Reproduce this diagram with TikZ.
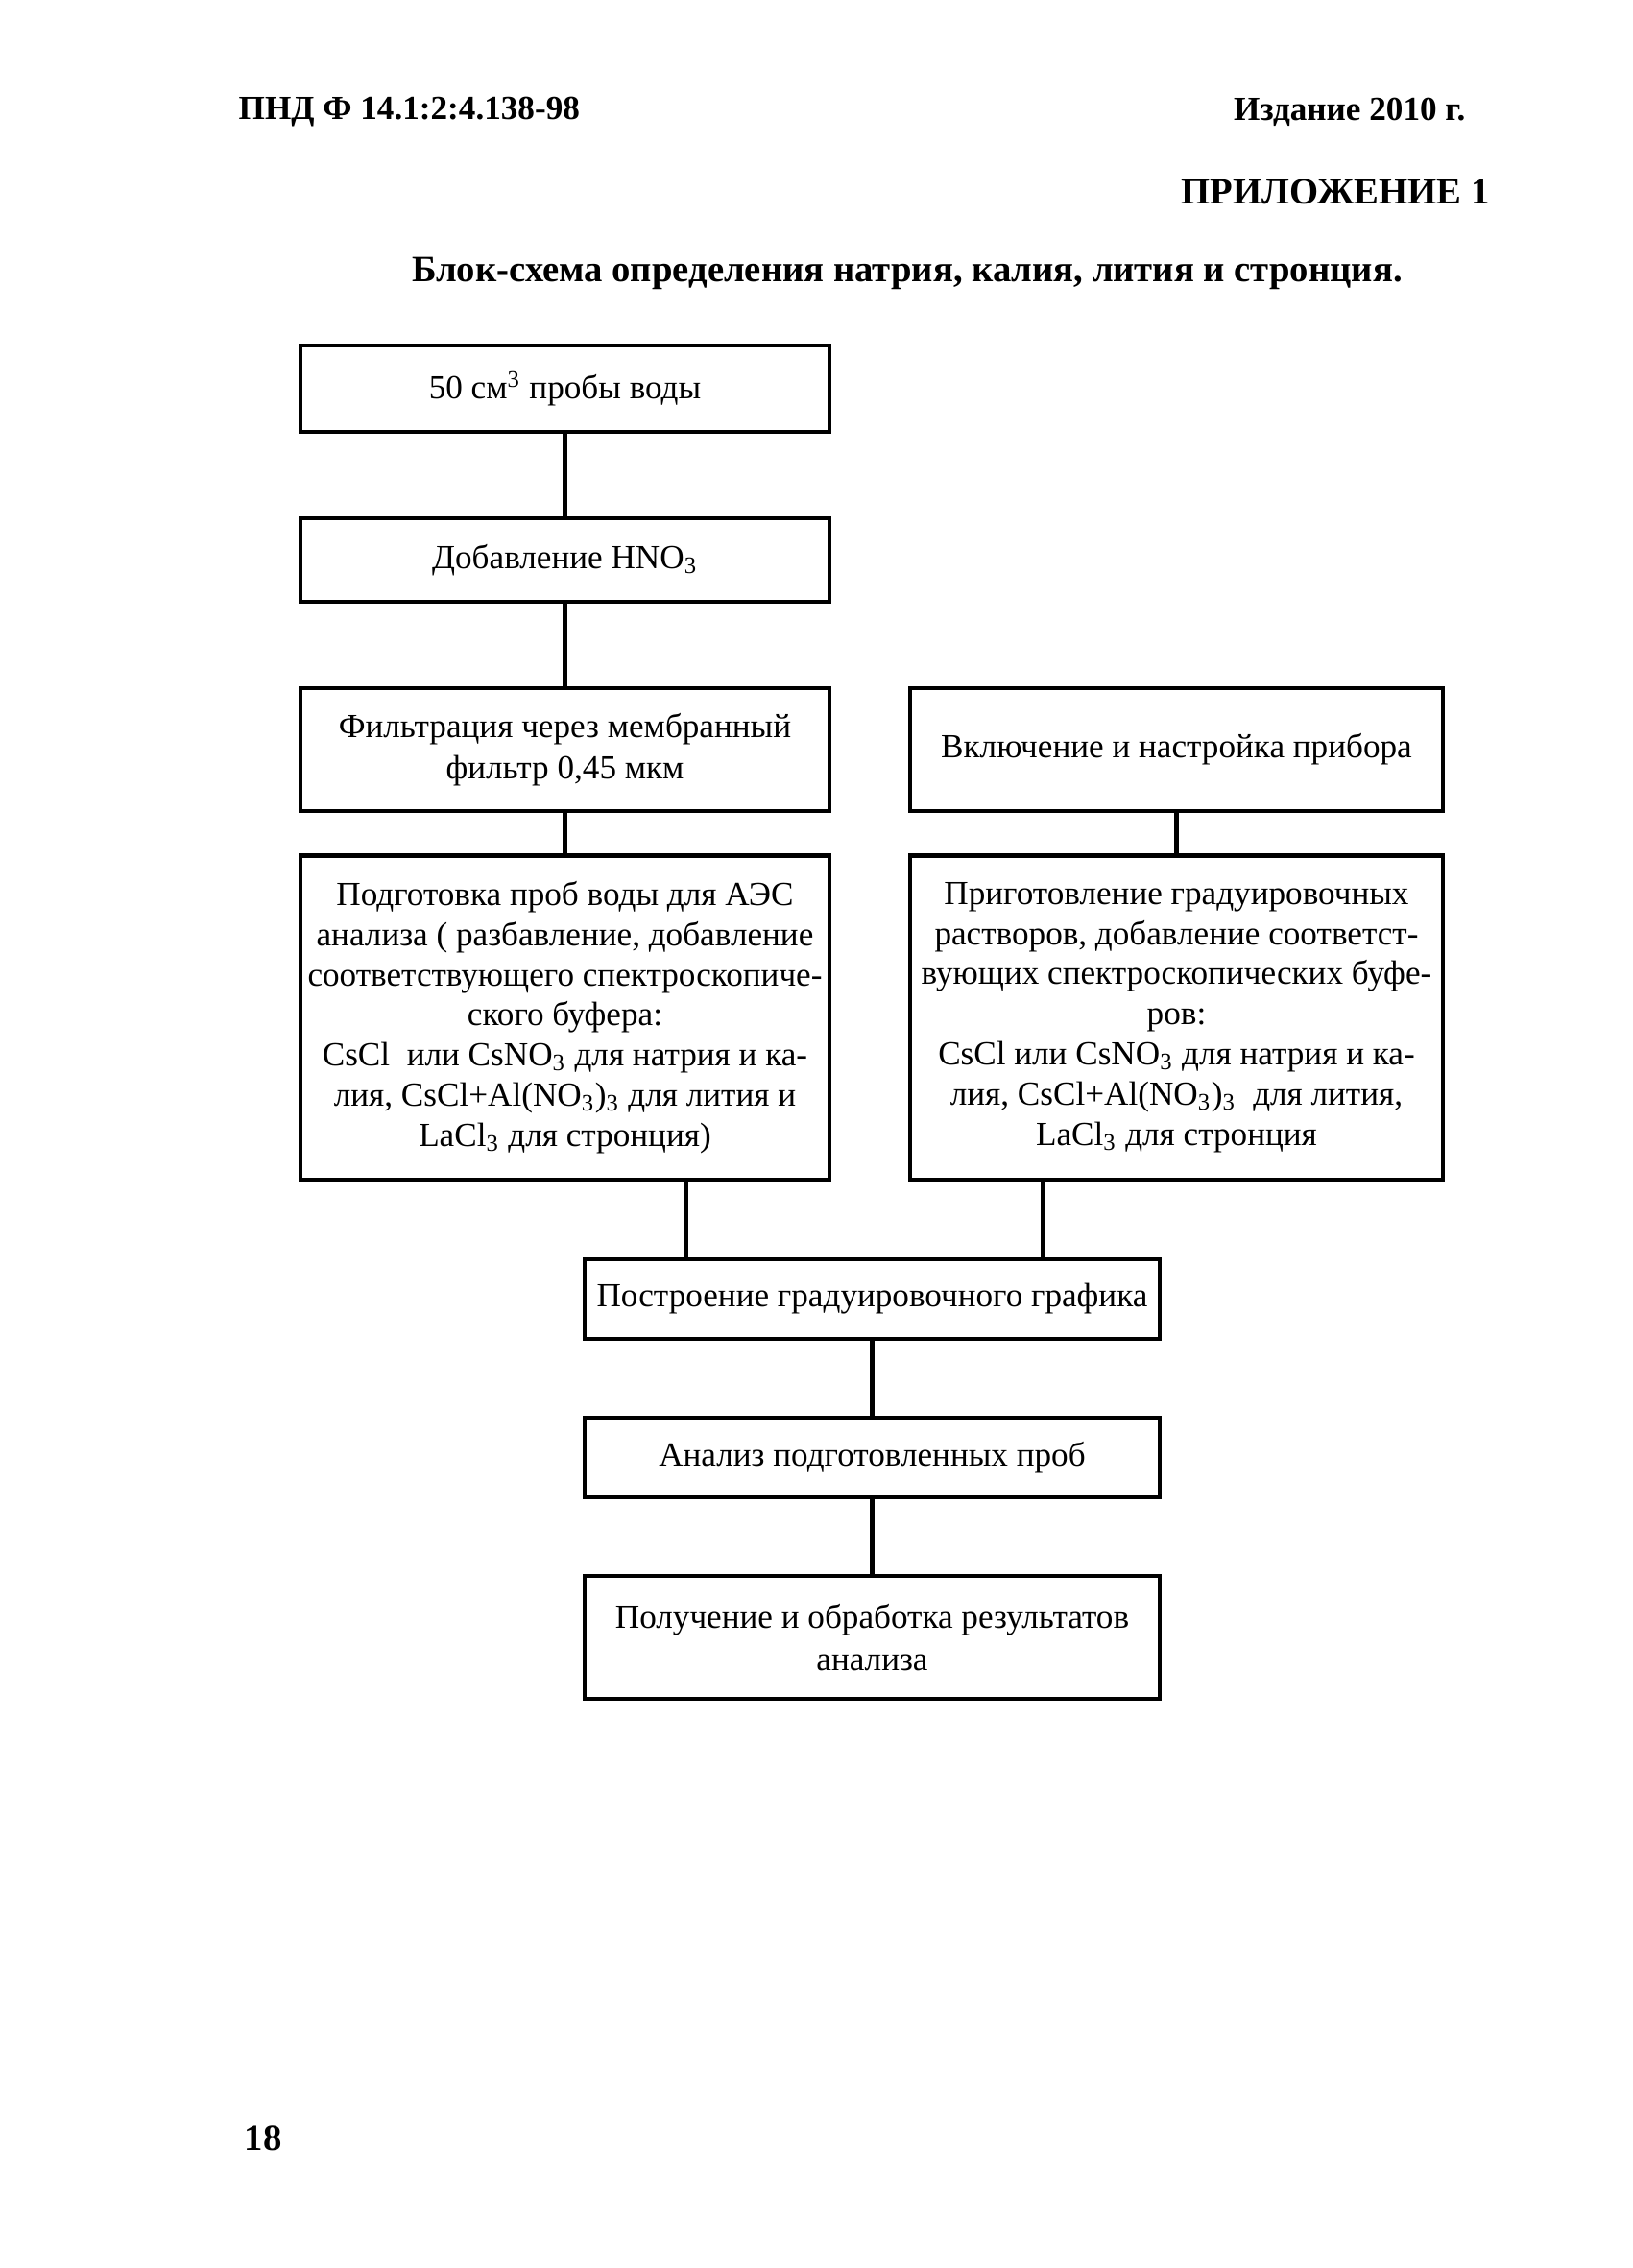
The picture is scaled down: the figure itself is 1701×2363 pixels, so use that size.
\documentclass[tikz,border=0pt]{standalone}
\usepackage{fontspec}
\setmainfont{Liberation Serif}
\begin{document}
\begin{tikzpicture}[x=0.01cm,y=-0.01cm,
  box/.style={draw=black, line width=1.2pt, inner sep=0pt, align=center,
    font=\fontsize{10}{12.4}\selectfont},
  tallbox/.style={box, font=\fontsize{10}{11.9}\selectfont},
  conn/.style={draw=black, line width=1.2pt},
  hdr/.style={font=\fontsize{10}{12}\selectfont\bfseries, inner sep=0pt},
  ttl/.style={font=\fontsize{11}{13}\selectfont\bfseries, inner sep=0pt}]
\useasboundingbox (0,0) rectangle (1701,2363);
\fill[white] (0,0) rectangle (1701,2363);

\node[hdr, anchor=west] (code) at (248,117) {ПНД Ф 14.1:2:4.138-98};
\node[hdr, anchor=east] (ed) at (1527,117) {Издание 2010 г.};
\node[ttl, anchor=east] (app) at (1552,200) {ПРИЛОЖЕНИЕ 1};
\node[ttl] (title) at (945,285) {Блок-схема определения натрия, калия, лития и стронция.};

\node[box, minimum width=5.51cm, minimum height=0.90cm] (b1) at (588.5,405)
  {50 см\textsuperscript{3} пробы воды};
\node[box, minimum width=5.51cm, minimum height=0.87cm] (b2) at (588.5,583.5)
  {Добавление HNO\textsubscript{3}};
\node[box, minimum width=5.51cm, minimum height=1.28cm] (b3) at (588.5,781)
  {Фильтрация через мембранный\\фильтр 0,45 мкм};
\node[box, minimum width=5.55cm, minimum height=1.28cm] (r1) at (1225.5,781)
  {Включение и настройка прибора};
\node[tallbox, minimum width=5.51cm, minimum height=3.37cm] (b4) at (588.5,1060)
  {Подготовка проб воды для АЭС\\
   анализа ( разбавление, добавление\\
   соответствующего спектроскопиче-\\
   ского буфера:\\
   CsCl\ \ или CsNO\textsubscript{3} для натрия и ка-\\
   лия, CsCl+Al(NO\textsubscript{3})\textsubscript{3} для лития и\\
   LaCl\textsubscript{3} для стронция)};
\node[tallbox, minimum width=5.55cm, minimum height=3.37cm] (r2) at (1225.5,1060)
  {Приготовление градуировочных\\
   растворов, добавление соответст-\\
   вующих спектроскопических буфе-\\
   ров:\\
   CsCl или CsNO\textsubscript{3} для натрия и ка-\\
   лия, CsCl+Al(NO\textsubscript{3})\textsubscript{3}\ \ для лития,\\
   LaCl\textsubscript{3} для стронция};
\node[box, minimum width=5.99cm, minimum height=0.83cm] (b5) at (908.5,1353.5)
  {Построение градуировочного графика};
\node[box, minimum width=5.99cm, minimum height=0.83cm] (b6) at (908.5,1518.5)
  {Анализ подготовленных проб};
\node[box, minimum width=5.99cm, minimum height=1.28cm] (b7) at (908.5,1706)
  {Получение и обработка результатов\\анализа};

\node[ttl] (page) at (274,2228) {18};

\coordinate (cl) at (715,0);
\coordinate (cr) at (1086,0);

\draw[conn] (b1.south) -- (b2.north);
\draw[conn] (b2.south) -- (b3.north);
\draw[conn] (b3.south) -- (b4.north);
\draw[conn] (r1.south) -- (r2.north);
\draw[conn] (cl |- b4.south) -- (cl |- b5.north);
\draw[conn] (cr |- r2.south) -- (cr |- b5.north);
\draw[conn] (b5.south) -- (b6.north);
\draw[conn] (b6.south) -- (b7.north);
\end{tikzpicture}
\end{document}
